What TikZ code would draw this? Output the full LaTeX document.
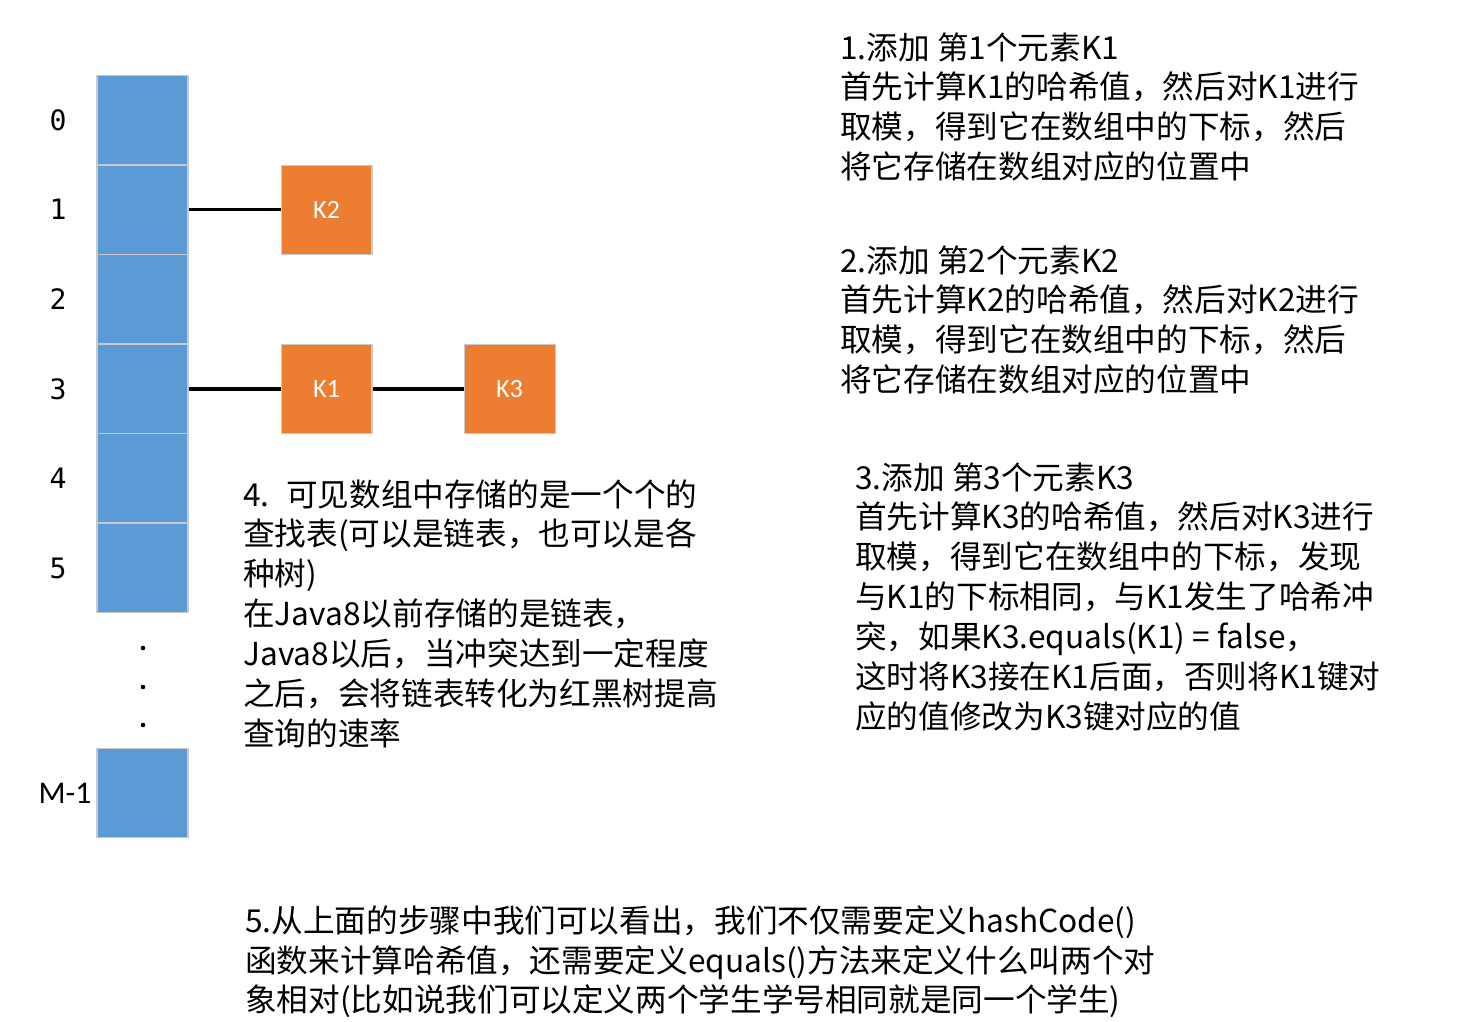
\documentclass[tikz,border=0pt]{standalone}
\usepackage{fontspec}
\usepackage{xcolor}
\usepackage{tikz}
\usetikzlibrary{positioning}
\newfontfamily\cjk{Noto Sans CJK SC}
\newfontfamily\keyfont{Carlito}
\newfontfamily\idxfont{DejaVu Sans Mono}
\definecolor{cellblue}{HTML}{5B9BD5}
\definecolor{keyorange}{HTML}{ED7D31}
\definecolor{edgegray}{HTML}{C9C9C9}

\begin{document}
\begin{tikzpicture}[
  x=0.02cm, y=-0.02cm,
  cell/.style={
    rectangle,
    draw=edgegray,
    line width=0.6pt,
    fill=cellblue,
    minimum width=1.82cm,
    minimum height=1.78cm
  },
  keybox/.style={cell,fill=keyorange,text=white,font=\keyfont\fontsize{15}{18}\selectfont},
  idx/.style={font=\idxfont\fontsize{16}{18}\selectfont},
  link/.style={line width=2pt,draw=black},
  note/.style={anchor=north west,align=left,inner sep=0pt,font=\cjk\fontsize{18}{22.7}\selectfont}
]
\useasboundingbox (0,0) rectangle (1462,1021);

% hash table slots
\foreach \i in {0,...,5} {
  \node[cell] (c\i) at (142.5,{120+89.6*\i}) {};
  \node[idx] (i\i) at (58,{120+89.6*\i}) {\i};
}
\node[cell] (cm) at (142.5,793) {};
\node[font=\keyfont\fontsize{18}{20}\selectfont] (im) at (65,793) {M-1};
\foreach \y in {648,687,725}
  \fill (143,\y) circle (1.3pt);

% entries
\node[keybox,right=1.84cm of c1] (k2) {K2};
\node[keybox,right=1.84cm of c3] (k1) {K1};
\node[keybox,right=1.82cm of k1] (k3) {K3};
\draw[link] (c1) -- (k2);
\draw[link] (c3) -- (k1);
\draw[link] (k1) -- (k3);

% notes
\node[note] (n1) at (840,32) {1.添加 第1个元素K1\\首先计算K1的哈希值，然后对K1进行\\取模，得到它在数组中的下标，然后\\将它存储在数组对应的位置中};
\node[note] (n2) at (840,245) {2.添加 第2个元素K2\\首先计算K2的哈希值，然后对K2进行\\取模，得到它在数组中的下标，然后\\将它存储在数组对应的位置中};
\node[note] (n3) at (855,462) {3.添加 第3个元素K3\\首先计算K3的哈希值，然后对K3进行\\取模，得到它在数组中的下标，发现\\与K1的下标相同，与K1发生了哈希冲\\突，如果K3.equals(K1) = false，\\这时将K3接在K1后面，否则将K1键对\\应的值修改为K3键对应的值};
\node[note] (n4) at (243,479) {4. \ 可见数组中存储的是一个个的\\查找表(可以是链表，也可以是各\\种树)\\在Java8以前存储的是链表，\\Java8以后，当冲突达到一定程度\\之后，会将链表转化为红黑树提高\\查询的速率};
\node[note] (n5) at (245,905) {5.从上面的步骤中我们可以看出，我们不仅需要定义hashCode()\\函数来计算哈希值，还需要定义equals()方法来定义什么叫两个对\\象相对(比如说我们可以定义两个学生学号相同就是同一个学生)};
\end{tikzpicture}
\end{document}
